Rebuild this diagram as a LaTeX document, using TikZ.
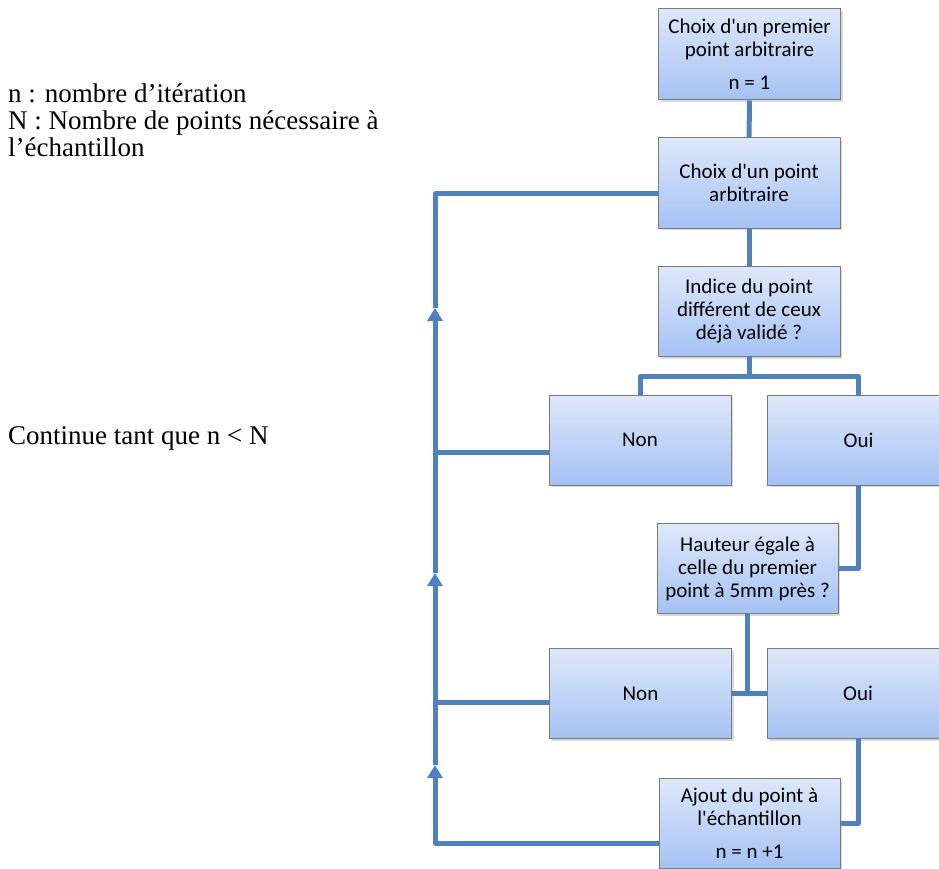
\documentclass[tikz,border=0pt]{standalone}
\usepackage{fontspec}
\setmainfont{Liberation Serif}
\newfontfamily\boxfont{Carlito}
\usetikzlibrary{arrows.meta,shadows}
\definecolor{flowblue}{HTML}{4F81BD}
\definecolor{boxedge}{HTML}{7A7A7A}
\definecolor{boxtop}{HTML}{DEE8FA}
\definecolor{boxbottom}{HTML}{A5C2F4}

\begin{document}
\begin{tikzpicture}[
  x=1pt,
  y=-1pt,
  procbox/.style={draw=boxedge, line width=1pt,
                  top color=boxtop, bottom color=boxbottom,
                  minimum width=182pt, minimum height=90pt,
                  inner sep=2pt, align=center,
                  font=\boxfont\fontsize{21}{23}\selectfont,
                  drop shadow={shadow xshift=2pt, shadow yshift=-2pt, opacity=0.3}},
  link/.style={flowblue, line width=5pt, line join=round},
  uparrow/.style={link, -{Triangle[width=15pt, length=13pt]}},
  legend/.style={font=\fontsize{27}{27}\selectfont, inner sep=0pt, align=left}
]
  % ---- page, same size as the original figure ----
  \useasboundingbox (0,0) rectangle (939,869);

  % ---- legend on the left ----
  \node[legend, anchor=north west] (legende) at (8,84)
    {n : nombre d’itération\\N : Nombre de points nécessaire à\\l’échantillon};
  \node[legend, anchor=base west] (condition) at (8,444) {Continue tant que n < N};

  % ---- steps of the flowchart ----
  \node[procbox, minimum height=91pt] (premier) at (749.5,54.5)
    {Choix d\textquotesingle un premier\\point arbitraire\\[10pt]n = 1};
  \node[procbox] (choix) at (749,183) {Choix d\textquotesingle un point\\arbitraire};
  \node[procbox] (indice) at (749,311.5)
    {Indice du point\\différent de ceux\\déjà validé ?};
  \node[procbox] (non1) at (640,440) {Non};
  \node[procbox] (oui1) at (858.5,440) {Oui};
  \node[procbox, minimum width=181pt] (hauteur) at (747.5,568.5)
    {Hauteur égale à\\celle du premier\\point à 5mm près ?};
  \node[procbox] (non2) at (640.5,693.5) {Non};
  \node[procbox] (oui2) at (858,693.5) {Oui};
  \node[procbox, minimum width=181pt] (ajout) at (749.5,823.5)
    {Ajout du point à\\l\textquotesingle échantillon\\[10pt]n = n +1};

  % ---- connectors down the chart ----
  \coordinate (fourche) at (749,376);
  \draw[link] (premier) -- (choix);
  \draw[link] (choix) -- (indice);
  \draw[link] (indice) -- (fourche);
  \draw[link] (non1.north) |- (fourche) -| (oui1.north);
  \draw[link] (oui1.south) |- (hauteur.east);
  \draw[link] (hauteur.south) -- (hauteur.south |- non2.east);
  \draw[link] (non2.east) -- (oui2.west);
  \draw[link] (oui2.south) |- (ajout.east);

  % ---- loop back on the left, while n < N ----
  \coordinate (basboucle) at (435,843);
  \coordinate (hautboucle) at (435,194);
  \coordinate (jonction1) at (435,452);
  \coordinate (jonction2) at (435,702);
  \coordinate (fleche1) at (435,308);
  \coordinate (fleche2) at (435,573);
  \coordinate (fleche3) at (435,765);
  \draw[uparrow] (ajout.west |- basboucle) -- (basboucle) -- (fleche3);
  \draw[uparrow] (fleche3) -- (fleche2);
  \draw[uparrow] (fleche2) -- (fleche1);
  \draw[link] (fleche1) -- (hautboucle) -- (hautboucle -| choix.west);
  \draw[link] (non1.west |- jonction1) -- (jonction1);
  \draw[link] (non2.west |- jonction2) -- (jonction2);
\end{tikzpicture}
\end{document}
